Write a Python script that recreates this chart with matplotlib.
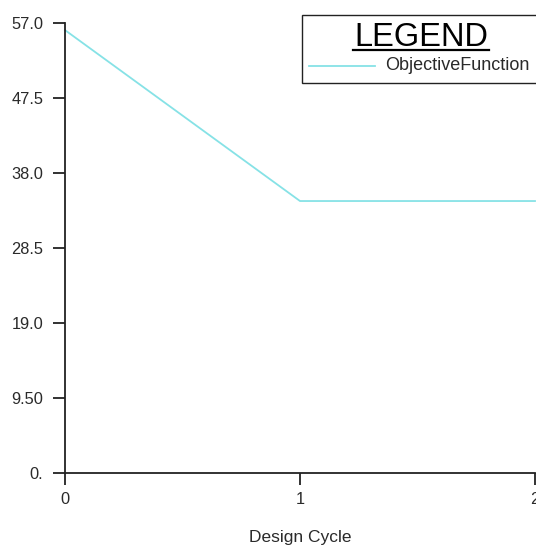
import matplotlib
matplotlib.use("Agg")
import matplotlib.pyplot as plt
from matplotlib.patches import Rectangle
from matplotlib.lines import Line2D

# Data
design_cycle = [0, 1, 2]
objective_function = [56.1, 34.45, 34.45]
y_ticks = [0.0, 9.5, 19.0, 28.5, 38.0, 47.5, 57.0]
y_tick_labels = ["0.", "9.50", "19.0", "28.5", "38.0", "47.5", "57.0"]
x_ticks = [0, 1, 2]
x_tick_labels = ["0", "1", "2"]
series_name = "ObjectiveFunction"

plt.rcParams['font.family'] = ['Liberation Sans', 'DejaVu Sans']

W, H = 536, 546
fig = plt.figure(figsize=(W / 100, H / 100), dpi=100)
ax = fig.add_axes([65 / W, (H - 473) / H, (535 - 65) / W, (473 - 23) / H])

line_color = '#86e2e6'
ax.plot(design_cycle, objective_function, color=line_color, lw=1.3, clip_on=False)

ax.set_xlim(0, 2)
ax.set_ylim(0, 57)
ax.set_yticks(y_ticks)
ax.set_yticklabels(y_tick_labels)
ax.set_xticks(x_ticks)
ax.set_xticklabels(x_tick_labels)

for s in ['top', 'right']:
    ax.spines[s].set_visible(False)
for s in ['left', 'bottom']:
    ax.spines[s].set_linewidth(1.3)
    ax.spines[s].set_color('#222222')

ax.tick_params(axis='both', direction='out', length=8.5, width=1.3, color='#222222',
               labelsize=11.8, labelcolor='#2a2a2a')
ax.tick_params(axis='y', pad=7)
ax.tick_params(axis='x', pad=5)

ax.set_xlabel("Design Cycle", fontsize=12.5, color='#2a2a2a', labelpad=17)

# Legend box (figure pixel coordinates)
def fx(px):
    return px / W

def fy(py):
    return (H - py) / H

fig.patches.append(Rectangle((fx(302), fy(83)), fx(560) - fx(302), fy(15) - fy(83),
                             transform=fig.transFigure, facecolor='white',
                             edgecolor='#222222', lw=1.0, clip_on=False))
fig.text(fx(421), fy(37), "LEGEND", fontsize=23.5, ha='center', va='center', color='black')
fig.lines.append(Line2D([fx(353), fx(489)], [fy(50), fy(50)], transform=fig.transFigure,
                        color='black', lw=1.6))
fig.lines.append(Line2D([fx(309), fx(375)], [fy(66), fy(66)], transform=fig.transFigure,
                        color=line_color, lw=1.3))
fig.text(fx(385), fy(66), series_name, fontsize=13, ha='left', va='center', color='#2a2a2a')

fig.savefig("out.png", dpi=100)
